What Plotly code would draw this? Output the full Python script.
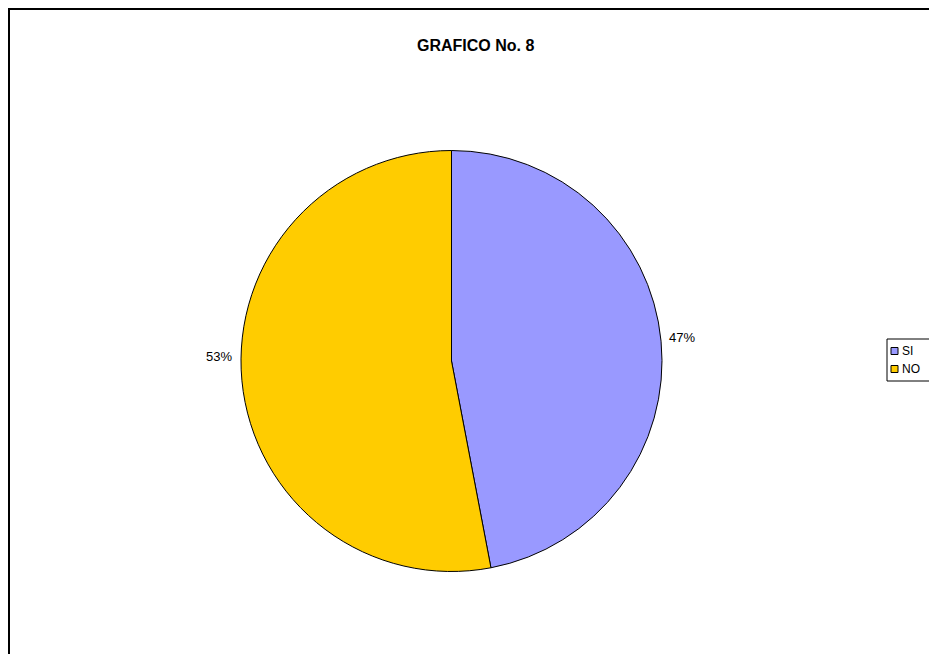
import plotly.graph_objects as go

# Survey answers
categories = ["SI", "NO"]
values = [47, 53]
colors = ["#9999FF", "#FFCC00"]

W, H = 929, 654
total = sum(values)
pct_labels = [f"{round(v / total * 100)}%" for v in values]


def px(x):
    return x / W


def py(y):
    return 1 - y / H


fig = go.Figure(
    go.Pie(
        labels=categories,
        values=values,
        sort=False,
        direction="clockwise",
        rotation=0,
        marker=dict(colors=colors, line=dict(color="#000000", width=1)),
        textinfo="none",
        hoverinfo="label+percent",
        showlegend=False,
        domain=dict(x=[px(241), px(662)], y=[py(572), py(150)]),
    )
)

FONT = "Liberation Sans, Arial"

# Percentage labels beside each slice
label_pos = [(682, 337), (219, 357)]
annotations = [
    dict(text=t, x=px(x), y=py(y), xref="paper", yref="paper",
         xanchor="center", yanchor="middle", showarrow=False,
         font=dict(family=FONT, size=13, color="#000"))
    for t, (x, y) in zip(pct_labels, label_pos)
]

# Title
annotations.append(dict(text="<b>GRAFICO No. 8</b>", x=px(476), y=py(45), xref="paper", yref="paper",
                        xanchor="center", yanchor="middle", showarrow=False,
                        font=dict(family=FONT, size=16, color="#000")))

shapes = [
    # chart frame
    dict(type="rect", xref="paper", yref="paper", x0=px(9), x1=1.05, y0=-0.05, y1=py(9),
         line=dict(color="#000000", width=2), fillcolor="rgba(0,0,0,0)"),
    # legend box
    dict(type="rect", xref="paper", yref="paper", x0=px(887), x1=1.05, y0=py(381), y1=py(339),
         line=dict(color="#000000", width=1), fillcolor="#FFFFFF"),
]

# Legend entries
for i, (cat, col) in enumerate(zip(categories, colors)):
    yc = 351 + i * 18
    shapes.append(dict(type="rect", xref="paper", yref="paper",
                       x0=px(891), x1=px(898), y0=py(yc + 3.5), y1=py(yc - 3.5),
                       line=dict(color="#000000", width=1), fillcolor=col))
    annotations.append(dict(text=cat, x=px(900), y=py(yc), xref="paper", yref="paper",
                            xanchor="left", yanchor="middle", showarrow=False,
                            font=dict(family=FONT, size=12, color="#000")))

fig.update_layout(
    width=W, height=H,
    margin=dict(l=0, r=0, t=0, b=0),
    paper_bgcolor="#FFFFFF",
    plot_bgcolor="#FFFFFF",
    shapes=shapes,
    annotations=annotations,
)

fig.write_html("out.html")
